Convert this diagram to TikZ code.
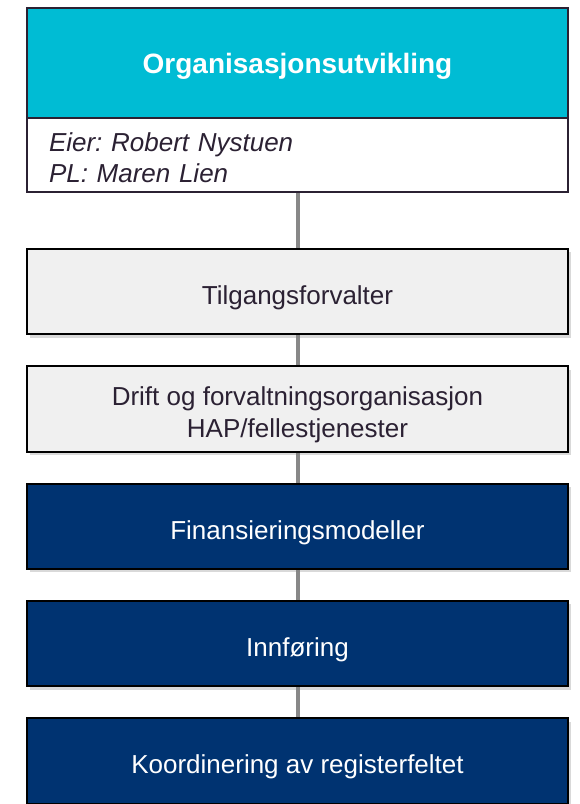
\documentclass[tikz,border=0pt]{standalone}
\usepackage{fontspec}
\setmainfont{Liberation Sans}
\frenchspacing
\usetikzlibrary{positioning,shadows,backgrounds}
\definecolor{headcyan}{HTML}{00BCD4}
\definecolor{navy}{HTML}{003371}
\definecolor{boxgray}{HTML}{F0F0F0}
\definecolor{inkdark}{HTML}{2B2133}
\definecolor{linkgray}{HTML}{888888}

\begin{document}
\begin{tikzpicture}[
  x=0.75pt, y=-0.75pt,
  every node/.style={font=\fontsize{19.5}{24}\selectfont},
  wide/.style={rectangle,minimum width=405.75pt,inner sep=0pt,outer sep=0pt,
    align=center,text depth=0pt},
  head/.style={wide,draw=inkdark,line width=1.5pt,fill=headcyan,minimum height=82.5pt,
    text=white,font=\bfseries\fontsize{21}{25}\selectfont},
  info/.style={wide,draw=inkdark,line width=1.5pt,fill=white,minimum height=55.5pt,
    align=left,text width=372.75pt,inner xsep=16.5pt,text=inkdark,text depth=18.75pt,
    font=\itshape\fontsize{19.5}{23.25}\selectfont},
  stage/.style={wide,draw=black,line width=1.5pt,minimum height=64pt,text height=19pt,
    drop shadow={shadow xshift=2pt,shadow yshift=-2.5pt,opacity=.3}},
  light/.style={stage,fill=boxgray,text=inkdark},
  dark/.style={stage,fill=navy,text=white},
  link/.style={linkgray,line width=3pt}
]
\useasboundingbox (0,0) rectangle (579,804);
\node[head,anchor=north west] (head) at (27,8) {Organisasjonsutvikling};
\node[info,below=0pt of head] (info) {Eier: Robert Nystuen\\PL: Maren Lien};
\node[light,below=42.75pt of info] (tilg) {Tilgangsforvalter};
\node[light,below=24pt of tilg,text height=43pt] (drift)
 {Drift og forvaltningsorganisasjon\\HAP/fellestjenester};
\node[dark,below=24pt of drift] (finans) {Finansieringsmodeller};
\node[dark,below=24pt of finans] (innf) {Innføring};
\node[dark,below=24pt of innf] (koord) {Koordinering av registerfeltet};
\begin{scope}[on background layer]
\foreach \a/\b in {info/tilg,tilg/drift,drift/finans,finans/innf,innf/koord}
  \draw[link] (\a.south) -- (\b.north);
\end{scope}
\end{tikzpicture}
\end{document}
